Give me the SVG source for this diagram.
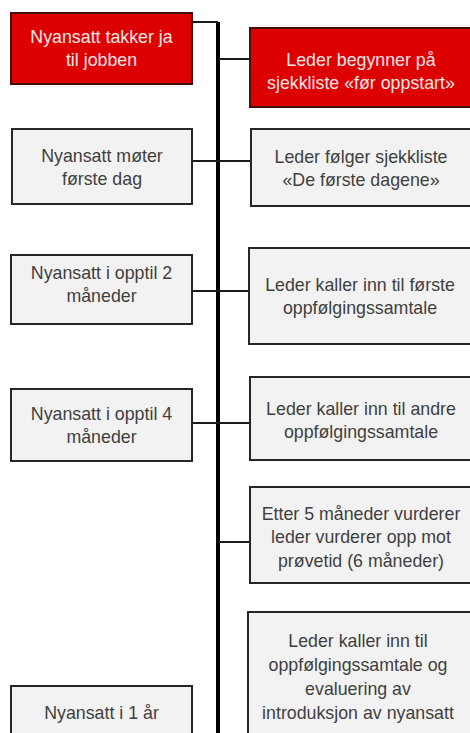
<svg xmlns="http://www.w3.org/2000/svg" width="470" height="733" viewBox="0 0 470 733">
<style>
.red rect{fill:#dd0000;stroke:#4a0b0b;stroke-width:2}
.gray rect{fill:#f2f2f2;stroke:#262626;stroke-width:2}
text{font-family:"Liberation Sans","Open Sans",sans-serif;font-size:17.8px;text-anchor:middle}
.red text{fill:#fbe6e6}
.gray text{fill:#3f3f3f}
.spine{stroke:#000;stroke-width:4;fill:none}
.con{stroke:#1a1a1a;stroke-width:2;fill:none}
</style>
<rect width="470" height="733" fill="#ffffff"/>
<g id="connectors">
<path class="spine" d="M218,22 V733"/>
<path class="con" d="M192,22 H218"/>
<path class="con" d="M218,59 H250"/>
<path class="con" d="M192,161 H251"/>
<path class="con" d="M192,291 H249"/>
<path class="con" d="M192,423 H250"/>
<path class="con" d="M218,542 H250"/>
</g>
<g id="n1" class="red"><rect x="11" y="13" width="181" height="71"/><text x="101.5" y="43">Nyansatt takker ja</text><text x="101.5" y="66">til jobben</text></g>
<g id="n2" class="red"><rect x="250" y="28" width="222" height="79"/><text x="361" y="66">Leder begynner på</text><text x="361" y="89">sjekkliste «før oppstart»</text></g>
<g id="n3" class="gray"><rect x="12" y="129" width="180" height="75"/><text x="102" y="162">Nyansatt møter</text><text x="102" y="185">første dag</text></g>
<g id="n4" class="gray"><rect x="251" y="129" width="221" height="77"/><text x="361" y="163">Leder følger sjekkliste</text><text x="361" y="186">«De første dagene»</text></g>
<g id="n5" class="gray"><rect x="11" y="255" width="181" height="69"/><text x="101.5" y="279">Nyansatt i opptil 2</text><text x="101.5" y="302">måneder</text></g>
<g id="n6" class="gray"><rect x="249" y="248" width="223" height="96"/><text x="360" y="291">Leder kaller inn til første</text><text x="360" y="314">oppfølgingssamtale</text></g>
<g id="n7" class="gray"><rect x="11" y="389" width="181" height="72"/><text x="101.5" y="420">Nyansatt i opptil 4</text><text x="101.5" y="443">måneder</text></g>
<g id="n8" class="gray"><rect x="250" y="377" width="222" height="83"/><text x="361" y="415">Leder kaller inn til andre</text><text x="361" y="438">oppfølgingssamtale</text></g>
<g id="n9" class="gray"><rect x="250" y="487" width="222" height="96"/><text x="361" y="520">Etter 5 måneder vurderer</text><text x="361" y="543">leder vurderer opp mot</text><text x="361" y="567">prøvetid (6 måneder)</text></g>
<g id="n10" class="gray"><rect x="248" y="612" width="224" height="130"/><text x="358" y="647">Leder kaller inn til</text><text x="358" y="671">oppfølgingssamtale og</text><text x="358" y="695">evaluering av</text><text x="358" y="719">introduksjon av nyansatt</text></g>
<g id="n11" class="gray"><rect x="11" y="686" width="181" height="60"/><text x="101.5" y="719">Nyansatt i 1 år</text></g>
</svg>
